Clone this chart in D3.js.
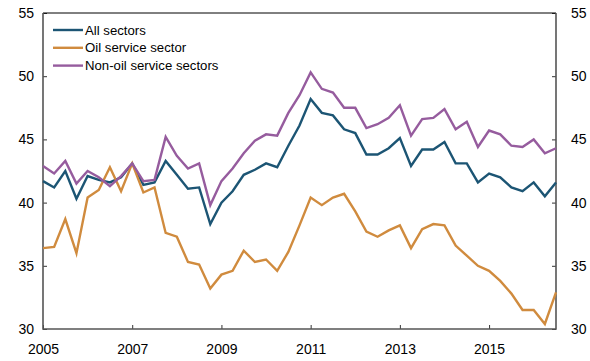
<!DOCTYPE html>
<html>
<head>
<meta charset="utf-8">
<script src="https://cdn.jsdelivr.net/npm/d3@7"></script>
<style>
  body { margin: 0; background: #fff; }
  text { font-family: "Liberation Sans", Arial, sans-serif; fill: #000; }
</style>
</head>
<body>
<div id="chart"></div>
<script>
// quarterly observations, 2005Q1 .. 2016Q3
var startYear = 2005;
var allSectors = [41.7, 41.2, 42.5, 40.3, 42.1, 41.8, 41.6, 42.0, 43.1, 41.4, 41.6, 43.3, 42.2, 41.1, 41.2, 38.3,
   40.0, 40.9, 42.2, 42.6, 43.1, 42.8, 44.5, 46.1, 48.2, 47.1, 46.9, 45.8, 45.5, 43.8, 43.8, 44.3,
   45.1, 42.9, 44.2, 44.2, 44.8, 43.1, 43.1, 41.6, 42.3, 42.0, 41.2, 40.9, 41.6, 40.5, 41.6];
var oilService = [36.4, 36.5, 38.7, 36.0, 40.4, 41.0, 42.8, 40.9, 43.1, 40.8, 41.2, 37.6, 37.3, 35.3, 35.1, 33.2,
   34.3, 34.6, 36.2, 35.3, 35.5, 34.6, 36.1, 38.2, 40.4, 39.8, 40.4, 40.7, 39.3, 37.7, 37.3, 37.8,
   38.2, 36.4, 37.9, 38.3, 38.2, 36.6, 35.8, 35.0, 34.6, 33.8, 32.8, 31.5, 31.5, 30.4, 32.9];
var nonOilService = [42.9, 42.3, 43.3, 41.5, 42.5, 42.0, 41.3, 42.1, 43.1, 41.7, 41.8, 45.2, 43.7, 42.7, 43.1, 39.8,
   41.7, 42.7, 43.9, 44.9, 45.4, 45.3, 47.1, 48.5, 50.3, 49.0, 48.7, 47.5, 47.5, 45.9, 46.2, 46.7,
   47.7, 45.3, 46.6, 46.7, 47.4, 45.8, 46.4, 44.4, 45.7, 45.4, 44.5, 44.4, 45.0, 43.9, 44.3];

var seriesNames = ['All sectors', 'Oil service sector', 'Non-oil service sectors'];
var seriesColors = ['#1c5574', '#d08b3e', '#965c9e'];
var yTicks = [30, 35, 40, 45, 50, 55];
var xTicks = [2005, 2007, 2009, 2011, 2013, 2015];

var width = 590, height = 361;
var margin = { top: 13, right: 34, bottom: 32, left: 43 };
var x0 = margin.left, x1 = width - margin.right;
var y0 = height - margin.bottom, y1 = margin.top;

var svg = d3.select('#chart').append('svg')
   .attr('width', width)
   .attr('height', height);

var x = d3.scaleLinear()
   .domain([2005, 2016.5])
   .range([x0, x1]);

var y = d3.scaleLinear()
   .domain([30, 55])
   .range([y0, y1]);

var series = [allSectors, oilService, nonOilService].map(function(values, k) {
   return {
      name: seriesNames[k],
      color: seriesColors[k],
      points: values.map(function(v, i) {
         return { t: startYear + i / 4, v: v };
      })
   };
});

// axes, ticks pointing inwards
var tickStyle = function(g) {
   g.select('.domain').remove();
   g.selectAll('.tick line').attr('stroke', '#333');
   g.selectAll('.tick text').style('font-size', '14px').attr('fill', '#000');
};

svg.append('g')
   .attr('transform', 'translate(' + x0 + ',0)')
   .call(d3.axisRight(y).tickValues(yTicks).tickSize(4).tickFormat(d3.format('d')))
   .call(tickStyle)
   .selectAll('.tick text')
   .attr('text-anchor', 'end')
   .attr('x', -9);

svg.append('g')
   .attr('transform', 'translate(' + x1 + ',0)')
   .call(d3.axisLeft(y).tickValues(yTicks).tickSize(4).tickFormat(d3.format('d')))
   .call(tickStyle)
   .selectAll('.tick text')
   .attr('text-anchor', 'start')
   .attr('x', 15);

svg.append('g')
   .attr('transform', 'translate(0,' + y0 + ')')
   .call(d3.axisTop(x).tickValues(xTicks).tickSize(4).tickFormat(d3.format('d')))
   .call(tickStyle)
   .selectAll('.tick text')
   .attr('y', 25)
   .attr('dy', 0);

// frame: thin black top, heavier grey sides and bottom
svg.append('line')
   .attr('x1', x0).attr('x2', x1)
   .attr('y1', y1).attr('y2', y1)
   .attr('stroke', '#000')
   .attr('stroke-width', 1);

svg.append('path')
   .attr('d', 'M' + x0 + ',' + y1 + 'V' + y0 + 'H' + x1 + 'V' + y1)
   .attr('fill', 'none')
   .attr('stroke', '#555')
   .attr('stroke-width', 1.6);

// lines
var line = d3.line()
   .x(function(d) { return x(d.t); })
   .y(function(d) { return y(d.v); });

svg.selectAll('.series')
   .data(series)
   .enter().append('path')
   .attr('class', 'series')
   .attr('fill', 'none')
   .attr('stroke', function(d) { return d.color; })
   .attr('stroke-width', 2.4)
   .attr('stroke-linejoin', 'miter')
   .attr('d', function(d) { return line(d.points); });

// legend
var legend = svg.selectAll('.legend')
   .data(series)
   .enter().append('g')
   .attr('class', 'legend')
   .attr('transform', function(d, i) {
      return 'translate(53,' + (30 + i * 17.8) + ')';
   });

legend.append('line')
   .attr('x1', 0)
   .attr('x2', 30)
   .attr('stroke', function(d) { return d.color; })
   .attr('stroke-width', 2.4);

legend.append('text')
   .attr('x', 32)
   .attr('dy', '0.35em')
   .style('font-size', '13.2px')
   .text(function(d) { return d.name; });
</script>
</body>
</html>
